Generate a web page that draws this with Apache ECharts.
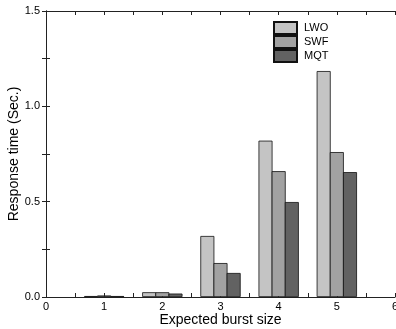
<!DOCTYPE html>
<html>
<head>
<meta charset="utf-8">
<script src="https://cdn.jsdelivr.net/npm/echarts@6/dist/echarts.min.js"></script>
<style>
  html, body { margin: 0; padding: 0; background: #fff; }
  #chart { width: 396px; height: 329px; }
</style>
</head>
<body>
<div id="chart"></div>
<script>
(function () {
  // burst sizes 0..6, bars only at 1..5
  var categories = ['0', '1', '2', '3', '4', '5', '6'];
  var lwo = [null, 0.005, 0.025, 0.32, 0.82, 1.185, null];
  var swf = [null, 0.008, 0.025, 0.178, 0.66, 0.76, null];
  var mqt = [null, 0.005, 0.018, 0.126, 0.498, 0.655, null];
  var yTicks = [0, 0.5, 1.0, 1.5];

  var font = 'Liberation Sans, Arial, sans-serif';
  var lineCol = '#222';

  var chart = echarts.init(document.getElementById('chart'));

  function bar(name, data, color) {
    return {
      name: name,
      type: 'bar',
      xAxisIndex: 0,
      data: data,
      barWidth: 14,
      barGap: '-6%',
      itemStyle: { color: color, borderColor: '#111', borderWidth: 0.8 }
    };
  }

  var frameAxis = function (pos) {
    return {
      type: 'value',
      position: pos,
      min: 0,
      max: 6,
      interval: 1,
      axisLine: { show: true, lineStyle: { color: lineCol, width: 1 } },
      axisTick: { show: true, inside: true, length: 4, lineStyle: { color: lineCol } },
      minorTick: { show: true, splitNumber: 2, length: 4, lineStyle: { color: lineCol } },
      splitLine: { show: false },
      axisLabel: pos === 'bottom' ? {
        show: true, fontSize: 11, fontFamily: font, color: '#000', margin: 4
      } : { show: false }
    };
  };

  var yFrame = function (pos) {
    return {
      type: 'value',
      position: pos,
      min: yTicks[0],
      max: yTicks[yTicks.length - 1],
      interval: 0.5,
      axisLine: { show: true, lineStyle: { color: lineCol, width: 1 } },
      axisTick: { show: true, inside: true, length: 4, lineStyle: { color: lineCol } },
      minorTick: { show: true, splitNumber: 2, length: 4, lineStyle: { color: lineCol } },
      splitLine: { show: false },
      axisLabel: pos === 'left' ? {
        fontSize: 11, fontFamily: font, color: '#000', margin: 6,
        formatter: function (v) { return v.toFixed(1); }
      } : { show: false }
    };
  };

  var option = {
    animation: false,
    grid: { left: 46, right: 1, top: 11, bottom: 32, outerBoundsMode: 'none', containLabel: false },
    legend: {
      orient: 'vertical',
      left: 273,
      top: 21,
      itemWidth: 23,
      itemHeight: 12,
      itemGap: 0,
      icon: 'rect',
      textStyle: { fontSize: 11, fontFamily: font, color: '#000', padding: [0, 0, 0, 2] },
      padding: 0,
      data: ['LWO', 'SWF', 'MQT']
    },
    xAxis: [
      {
        type: 'category',
        data: categories,
        boundaryGap: false,
        position: 'bottom',
        axisLine: { show: false },
        axisTick: { show: false },
        axisLabel: { show: false },
        splitLine: { show: false }
      },
      Object.assign(frameAxis('bottom'), {
        name: 'Expected burst size',
        nameLocation: 'middle',
        nameGap: 16,
        nameMoveOverlap: false,
        nameTextStyle: { fontSize: 14, fontFamily: font, color: '#000' }
      }),
      frameAxis('top')
    ],
    yAxis: [
      Object.assign(yFrame('left'), {
        name: 'Response time (Sec.)',
        nameLocation: 'middle',
        nameGap: 25,
        nameMoveOverlap: false,
        nameTextStyle: { fontSize: 14, fontFamily: font, color: '#000' }
      }),
      yFrame('right')
    ],
    series: [
      bar('LWO', lwo, '#c4c4c4'),
      bar('SWF', swf, '#a2a2a2'),
      bar('MQT', mqt, '#626262')
    ]
  };

  chart.setOption(option);
}());
</script>
</body>
</html>
